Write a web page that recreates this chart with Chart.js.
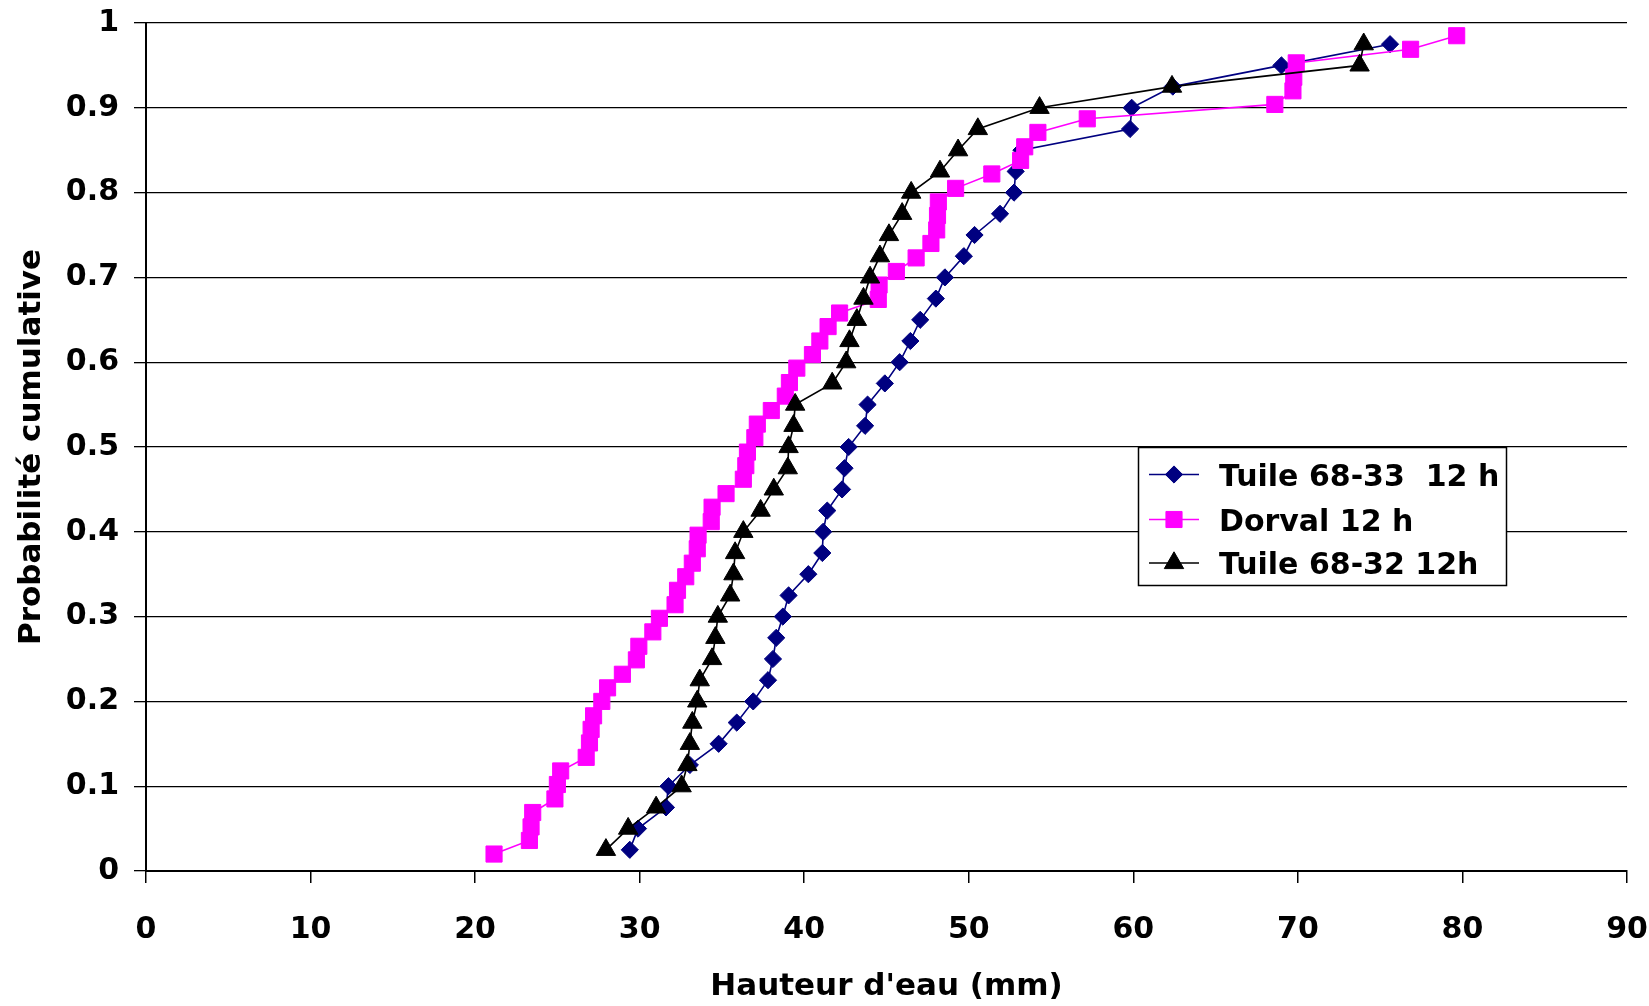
<!DOCTYPE html>
<html>
<head>
<meta charset="utf-8">
<script src="https://cdn.jsdelivr.net/npm/chart.js@4.4.0/dist/chart.umd.min.js"></script>
<style>
html,body{margin:0;padding:0;background:#ffffff;}
#wrap{width:1649px;height:1006px;position:relative;}
</style>
</head>
<body>
<div id="wrap"><canvas id="c" width="1649" height="1006"></canvas></div>
<script>
// ---------- DATA ----------
const seriesLabels = ['Tuile 68-33  12 h', 'Dorval 12 h', 'Tuile 68-32 12h'];
const xTitle = "Hauteur d'eau (mm)";
const yTitle = 'Probabilité cumulative';
const xTicks = [0, 10, 20, 30, 40, 50, 60, 70, 80, 90];
const xTickLabels = ['0', '10', '20', '30', '40', '50', '60', '70', '80', '90'];
const yTicks = [0, 0.1, 0.2, 0.3, 0.4, 0.5, 0.6, 0.7, 0.8, 0.9, 1];
const yTickLabels = ['0', '0.1', '0.2', '0.3', '0.4', '0.5', '0.6', '0.7', '0.8', '0.9', '1'];

// Tuile 68-33 12 h (x = hauteur d'eau, p = probabilité cumulative)
const tuile6833X = [29.4, 29.9, 31.6, 31.75, 33.05, 34.8, 35.9, 36.9, 37.8, 38.1,
  38.3, 38.7, 39.05, 40.25, 41.1, 41.15, 41.4, 42.3, 42.45, 42.7,
  43.7, 43.85, 44.9, 45.8, 46.45, 47.05, 48.0, 48.55, 49.7, 50.35,
  51.9, 52.75, 52.85, 53.2, 59.8, 59.9, 62.4, 69.0, 75.6];
const tuile6833P = [0.025, 0.05, 0.075, 0.1, 0.125, 0.15, 0.175, 0.2, 0.225, 0.25,
  0.275, 0.3, 0.325, 0.35, 0.375, 0.4, 0.425, 0.45, 0.475, 0.5,
  0.525, 0.55, 0.575, 0.6, 0.625, 0.65, 0.675, 0.7, 0.725, 0.75,
  0.775, 0.8, 0.825, 0.85, 0.875, 0.9, 0.925, 0.95, 0.975];

// Dorval 12 h
const dorvalX = [21.15, 23.3, 23.4, 23.5, 24.85, 25.0, 25.2, 26.75, 26.95, 27.05,
  27.2, 27.7, 28.05, 28.95, 29.8, 29.95, 30.8, 31.2, 32.15, 32.3,
  32.8, 33.2, 33.5, 33.55, 34.35, 34.4, 35.25, 36.3, 36.45, 36.55,
  37.0, 37.15, 38.0, 38.85, 39.1, 39.55, 40.5, 40.95, 41.45, 42.15,
  44.5, 44.55, 45.6, 46.8, 47.7, 48.05, 48.1, 48.15, 49.2, 51.4,
  53.15, 53.4, 54.2, 57.2, 68.6, 69.7, 69.75, 69.9, 76.85, 79.65];
const dorvalP = [0.020, 0.036, 0.052, 0.069, 0.085, 0.102, 0.118, 0.134, 0.151, 0.167,
  0.183, 0.200, 0.216, 0.232, 0.249, 0.265, 0.282, 0.298, 0.314, 0.331,
  0.347, 0.363, 0.380, 0.396, 0.412, 0.429, 0.445, 0.462, 0.478, 0.494,
  0.511, 0.527, 0.543, 0.560, 0.576, 0.593, 0.609, 0.625, 0.642, 0.658,
  0.674, 0.691, 0.707, 0.723, 0.740, 0.756, 0.773, 0.789, 0.805, 0.822,
  0.838, 0.854, 0.871, 0.887, 0.904, 0.920, 0.936, 0.953, 0.969, 0.985];

// Tuile 68-32 12h
const tuile6832X = [27.95, 29.3, 31.0, 32.55, 32.9, 33.05, 33.2, 33.5, 33.65, 34.4,
  34.6, 34.75, 35.5, 35.7, 35.8, 36.3, 37.35, 38.15, 39.0, 39.05,
  39.35, 39.45, 41.7, 42.55, 42.75, 43.2, 43.6, 44.0, 44.6, 45.15,
  45.95, 46.5, 48.25, 49.35, 50.55, 54.3, 62.35, 73.75, 74.0];
const tuile6832P = [0.025, 0.05, 0.075, 0.1, 0.125, 0.15, 0.175, 0.2, 0.225, 0.25,
  0.275, 0.3, 0.325, 0.35, 0.375, 0.4, 0.425, 0.45, 0.475, 0.5,
  0.525, 0.55, 0.575, 0.6, 0.625, 0.65, 0.675, 0.7, 0.725, 0.75,
  0.775, 0.8, 0.825, 0.85, 0.875, 0.9, 0.925, 0.95, 0.975];

// ---------- CHART ----------
const FAMILY = "'DejaVu Sans', 'Liberation Sans', sans-serif";
const FONT = {family: FAMILY, size: 30, weight: 'bold', lineHeight: 1.2};
const TITLE_FONT = {family: FAMILY, size: 31, weight: 'bold', lineHeight: 1.2};

function pts(xs, ps) { return xs.map((x, i) => ({x: x, y: ps[i]})); }

const styles = [
  {color: '#000080', pointStyle: 'rectRot', radius: 8.6, order: 3},
  {color: '#FF00FF', pointStyle: 'rect', radius: 11.4, order: 2},
  {color: '#000000', pointStyle: 'triangle', radius: 11.2, order: 1}
];
const seriesData = [pts(tuile6833X, tuile6833P), pts(dorvalX, dorvalP), pts(tuile6832X, tuile6832P)];

const datasets = seriesLabels.map((label, i) => ({
  label: label,
  data: seriesData[i],
  showLine: true,
  borderColor: styles[i].color,
  backgroundColor: styles[i].color,
  borderWidth: 1.6,
  pointStyle: styles[i].pointStyle,
  pointRadius: styles[i].radius,
  pointBackgroundColor: styles[i].color,
  pointBorderColor: styles[i].color,
  pointBorderWidth: 1,
  tension: 0,
  clip: false,
  order: styles[i].order
}));

function drawMarker(ctx, style, radius, x, y, color) {
  ctx.save();
  ctx.fillStyle = color; ctx.strokeStyle = color; ctx.lineWidth = 1;
  if (Chart.helpers && Chart.helpers.drawPoint) {
    Chart.helpers.drawPoint(ctx, {pointStyle: style, radius: radius, rotation: 0, borderWidth: 1}, x, y);
  } else {
    ctx.beginPath();
    if (style === 'rectRot') {
      ctx.moveTo(x - radius, y); ctx.lineTo(x, y - radius); ctx.lineTo(x + radius, y); ctx.lineTo(x, y + radius);
    } else if (style === 'rect') {
      const s = radius * Math.SQRT1_2; ctx.rect(x - s, y - s, 2 * s, 2 * s);
    } else {
      ctx.moveTo(x, y - radius); ctx.lineTo(x + 0.866 * radius, y + radius / 2); ctx.lineTo(x - 0.866 * radius, y + radius / 2);
    }
    ctx.closePath(); ctx.fill(); ctx.stroke();
  }
  ctx.restore();
}

const boxLegend = {
  id: 'boxLegend',
  afterDatasetsDraw(chart) {
    const ctx = chart.ctx;
    const L = 1138.5, T = 447.5, R = 1506.5, B = 585.5;
    const rows = [474.5, 519.5, 563];
    ctx.save();
    ctx.fillStyle = '#ffffff';
    ctx.fillRect(L, T, R - L, B - T);
    ctx.strokeStyle = '#000000';
    ctx.lineWidth = 1.5;
    ctx.strokeRect(L, T, R - L, B - T);
    chart.data.datasets.forEach((ds, i) => {
      const y = rows[i];
      ctx.strokeStyle = ds.borderColor;
      ctx.lineWidth = 1.5;
      ctx.beginPath(); ctx.moveTo(1149, y); ctx.lineTo(1199, y); ctx.stroke();
      drawMarker(ctx, ds.pointStyle, ds.pointRadius, 1174, y, ds.pointBackgroundColor);
      ctx.fillStyle = '#000000';
      ctx.font = 'bold 30px ' + FAMILY;
      ctx.textAlign = 'left';
      ctx.textBaseline = 'alphabetic';
      ctx.fillText(ds.label, 1219, y + 11);
    });
    ctx.restore();
  }
};

function zeroPad(s) { s.paddingLeft = 0; s.paddingRight = 0; s.paddingTop = 0; s.paddingBottom = 0; }

new Chart(document.getElementById('c').getContext('2d'), {
  type: 'scatter',
  data: {datasets: datasets},
  options: {
    responsive: false,
    animation: false,
    devicePixelRatio: 1,
    events: [],
    layout: {padding: {left: 0, top: 23, right: 22, bottom: 0}},
    plugins: {legend: {display: false}, tooltip: {enabled: false}},
    scales: {
      x: {
        type: 'linear', min: 0, max: 90,
        afterBuildTicks: (s) => { s.ticks = xTicks.map(v => ({value: v})); },
        afterFit: (s) => { s.height = 135; zeroPad(s); },
        ticks: {
          font: FONT, color: '#000000', padding: 29, maxRotation: 0, minRotation: 0, autoSkip: false,
          callback: (v) => { const i = xTicks.findIndex(t => Math.abs(t - v) < 1e-9); return i >= 0 ? xTickLabels[i] : ''; }
        },
        grid: {drawOnChartArea: false, drawTicks: true, tickLength: 12, color: '#000000', lineWidth: 1.5},
        border: {display: true, color: '#000000', width: 2},
        title: {display: true, text: xTitle, font: TITLE_FONT, color: '#000000', padding: {top: 0, bottom: 0}}
      },
      y: {
        type: 'linear', min: 0, max: 1,
        afterBuildTicks: (s) => { s.ticks = yTicks.map(v => ({value: v})); },
        afterFit: (s) => { s.width = 146; zeroPad(s); },
        ticks: {
          font: FONT, color: '#000000', padding: 15, autoSkip: false,
          callback: (v) => { const i = yTicks.findIndex(t => Math.abs(t - v) < 1e-9); return i >= 0 ? yTickLabels[i] : ''; }
        },
        grid: {drawOnChartArea: true, drawTicks: true, tickLength: 12, color: '#000000', lineWidth: 1.3},
        border: {display: true, color: '#000000', width: 2},
        title: {display: true, text: yTitle, font: TITLE_FONT, color: '#000000', padding: {top: 13, bottom: 0}}
      }
    }
  },
  plugins: [boxLegend]
});
</script>
</body>
</html>
